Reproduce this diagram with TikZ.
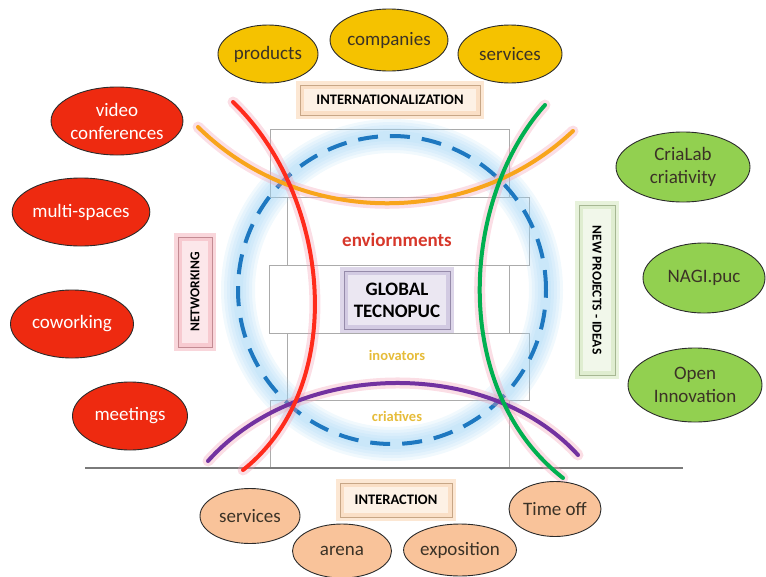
\documentclass[tikz,border=0pt]{standalone}
\usepackage{fontspec}
\setmainfont{Carlito}
\usetikzlibrary{shapes.geometric}

% palette
\definecolor{netred}{HTML}{EE2A10}
\definecolor{intyellow}{HTML}{F5C200}
\definecolor{projgreen}{HTML}{92D050}
\definecolor{peach}{HTML}{F9C39A}
\definecolor{bubbleline}{HTML}{2B2B2B}
\definecolor{darktext}{HTML}{3B3226}
\definecolor{arcred}{HTML}{FF2B1C}
\definecolor{arcgreen}{HTML}{00B050}
\definecolor{arcorange}{HTML}{F8A51C}
\definecolor{arcpurple}{HTML}{7232A0}
\definecolor{ringblue}{HTML}{1E78C0}
\definecolor{ringglow}{HTML}{9CD2F4}
\definecolor{halopink}{HTML}{F4A0B4}
\definecolor{floorgray}{HTML}{ABABAB}
\definecolor{groundgray}{HTML}{7A7A7A}
\definecolor{boxpeach}{HTML}{F9CFA8}
\definecolor{boxpink}{HTML}{F4AEB8}
\definecolor{boxgreen}{HTML}{CFE5B8}
\definecolor{boxlilac}{HTML}{BBAED4}
\definecolor{labelred}{HTML}{D7372A}
\definecolor{labelgold}{HTML}{E6BC3A}

\tikzset{
  bubble/.style={ellipse, draw=bubbleline, line width=0.9pt, inner sep=0pt,
    align=center, font=\fontsize{19}{23}\selectfont},
  redbub/.style={bubble, fill=netred, text=white},
  yelbub/.style={bubble, fill=intyellow, text=darktext},
  grnbub/.style={bubble, fill=projgreen, text=darktext},
  pchbub/.style={bubble, fill=peach, text=darktext},
  glowbox/.style={rectangle, draw=#1, draw opacity=0.5, line width=8pt,
    fill=#1!30, inner sep=0pt, align=center},
  innerframe/.style={draw=#1!80!black, line width=0.5pt},
  halo/.style={line width=11pt, draw=halopink, draw opacity=0.35, line cap=round},
  arcline/.style={line width=4pt, line cap=round},
  floor/.style={draw=floorgray, line width=0.7pt},
  ringhalo/.style={draw=ringglow, line width=#1, opacity=0.14},
  boxfont/.style={font=\fontsize{14.5}{17}\selectfont\bfseries},
  innerlabel/.style={font=\fontsize{14.5}{17}\selectfont\bfseries, text=labelgold},
}

\begin{document}
\begin{tikzpicture}[x=1pt, y=-1pt]
\useasboundingbox (0,0) rectangle (766,576);

% stacked floors of the building
\draw[floor] (270,129) rectangle (509,197);
\draw[floor] (287,197) rectangle (529,265);
\draw[floor] (269,265) rectangle (509,333);
\draw[floor] (287,333) rectangle (529,400);
\draw[floor] (270,400) rectangle (509,468);

% ground line
\coordinate (gl) at (85,468);
\coordinate (gr) at (683,468);
\draw[groundgray, line width=2pt] (gl) -- (gr);

% dashed ring with its soft glow
\coordinate (ring) at (392,290);
\foreach \w in {34pt,28pt,22pt,16pt,10pt}
  \draw[ringhalo=\w] (ring) circle [radius=154pt];
\draw[ringblue, line width=4pt, dash pattern=on 20pt off 12pt] (ring) circle [radius=154pt];

% crossing arcs
\draw[halo] (198,127) .. controls (300,228) and (470,228) .. (573,131);
\draw[halo] (208,461) .. controls (300,358) and (490,358) .. (578,455);
\draw[halo] (233,102) .. controls (330,195) and (350,385) .. (243,470);
\draw[halo] (545,105) .. controls (460,200) and (450,390) .. (563,478);

\draw[arcline, arcorange] (198,127) .. controls (300,228) and (470,228) .. (573,131);
\draw[arcline, arcpurple] (208,461) .. controls (300,358) and (490,358) .. (578,455);
\draw[arcline, arcred] (233,102) .. controls (330,195) and (350,385) .. (243,470);
\draw[arcline, arcgreen] (545,105) .. controls (460,200) and (450,390) .. (563,478);

% labels inside the building
\node[font=\fontsize{19}{23}\selectfont\bfseries, text=labelred] (env) at (397,240) {enviornments};
\node[innerlabel] (inov) at (397,355) {inovators};
\node[innerlabel] (cria) at (397,416) {criatives};

% centre box
\node[glowbox=boxlilac, minimum width=106, minimum height=58,
      font=\fontsize{19}{22}\selectfont\bfseries, text=black] (core) at (397,300)
      {GLOBAL\\TECNOPUC};
\draw[innerframe=boxlilac] ([shift={(4,4)}]core.north west) rectangle ([shift={(-4,-4)}]core.south east);

% theme boxes
\node[glowbox=boxpeach, minimum width=180, minimum height=30, boxfont] (intl) at (390,100)
      {INTERNATIONALIZATION};
\draw[innerframe=boxpeach] ([shift={(4,4)}]intl.north west) rectangle ([shift={(-4,-4)}]intl.south east);

\node[glowbox=boxpeach, minimum width=112, minimum height=34, boxfont] (inter) at (396,500)
      {INTERACTION};
\draw[innerframe=boxpeach] ([shift={(4,4)}]inter.north west) rectangle ([shift={(-4,-4)}]inter.south east);

\node[glowbox=boxpink, minimum width=34, minimum height=110,
      font=\fontsize{13.5}{16}\selectfont\bfseries] (net) at (195,292)
      {\rotatebox{90}{NETWORKING}};
\draw[innerframe=boxpink] ([shift={(4,4)}]net.north west) rectangle ([shift={(-4,-4)}]net.south east);

\node[glowbox=boxgreen, minimum width=36, minimum height=170,
      font=\fontsize{13.5}{16}\selectfont\bfseries] (proj) at (597,290)
      {\rotatebox{-90}{NEW PROJECTS - IDEAS}};
\draw[innerframe=boxgreen] ([shift={(4,4)}]proj.north west) rectangle ([shift={(-4,-4)}]proj.south east);

% internationalization bubbles
\node[yelbub, minimum width=100, minimum height=58] (prod) at (268,54) {products};
\node[yelbub, minimum width=104, minimum height=62] (comp) at (389,40) {companies};
\node[yelbub, minimum width=104, minimum height=58] (serv) at (510,54) {services};

% networking bubbles
\node[redbub, minimum width=130, minimum height=68] (video) at (117,121) {video\\conferences};
\node[redbub, minimum width=118, minimum height=68] (multi) at (81,212) {multi-spaces};
\node[redbub, minimum width=123, minimum height=68] (cowork) at (72,324) {coworking};
\node[redbub, minimum width=115, minimum height=68] (meet) at (130,416) {meetings};

% new project bubbles
\node[grnbub, minimum width=134, minimum height=70] (crialab) at (683,167) {CriaLab\\criativity};
\node[grnbub, minimum width=122, minimum height=70] (nagi) at (704,278) {NAGI.puc};
\node[grnbub, minimum width=134, minimum height=74] (open) at (695,385) {Open\\Innovation};

% interaction bubbles
\node[pchbub, minimum width=100, minimum height=55] (servb) at (250,516) {services};
\node[pchbub, minimum width=99, minimum height=54] (arena) at (342,551) {arena};
\node[pchbub, minimum width=100, minimum height=52] (expo) at (460,550) {exposition};
\node[pchbub, minimum width=92, minimum height=55] (timeoff) at (555,509) {Time off};

\end{tikzpicture}
\end{document}
